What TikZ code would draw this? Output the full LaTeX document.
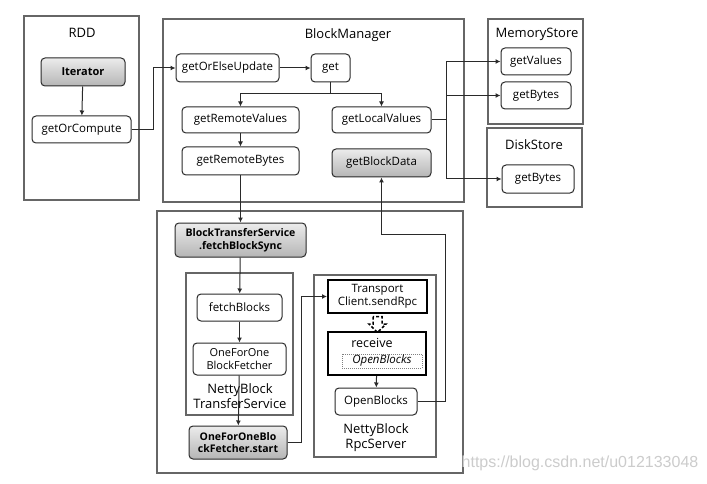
\documentclass[tikz,border=0pt]{standalone}
\usepackage{fontspec}
\setmainfont{Open Sans}
\setsansfont{Open Sans}
\newfontfamily\wmfont{Liberation Sans}
\usetikzlibrary{arrows.meta}
\definecolor{ln}{HTML}{2A2A2A}
\definecolor{fr}{HTML}{666666}
\tikzset{
  frame/.style={draw=fr, line width=1.2pt},
  box/.style={draw=ln, line width=1pt, rounded corners=4pt, fill=white, inner sep=0pt,
    align=center, font=\fontsize{11.5}{13}\selectfont, text=black},
  gbox/.style={box, top color=gray!15, bottom color=gray!58},
  tbox/.style={draw=black, line width=2pt, inner sep=0pt, align=center,
    font=\fontsize{11.5}{13}\selectfont, fill=white, text=black},
  ttl/.style={font=\fontsize{13}{15}\selectfont, inner sep=0pt, text=black, align=center},
  arr/.style={draw=ln, line width=1pt, -{Latex[length=5pt,width=5pt]}},
  ln/.style={draw=ln, line width=1pt},
}
\begin{document}
\begin{tikzpicture}[x=1pt,y=-1pt]
\useasboundingbox (0,0) rectangle (707,484);
\fill[white] (0,0) rectangle (707,484);
% frames
\draw[frame] (24,16) rectangle (139,200);
\draw[frame] (163,19) rectangle (464,202);
\draw[frame] (488,19) rectangle (583,124);
\draw[frame] (487,128) rectangle (582,207);
\draw[frame] (157,211) rectangle (463,473);
\draw[frame] (186,273) rectangle (293,415);
\draw[frame] (314,275) rectangle (436,457);
% titles
\node[ttl] (tRDD) at (82,33) {RDD};
\node[ttl] (tBM) at (348,35) {BlockManager};
\node[ttl] (tMS) at (537,34) {MemoryStore};
\node[ttl] (tDS) at (534,145) {DiskStore};
\node[ttl] (tNBTS) at (240,396) {NettyBlock\\TransferService};
\node[ttl] (tRPC) at (376,438) {NettyBlock\\RpcServer};
% RDD
\node[gbox, minimum width=84, minimum height=28, font=\bfseries\fontsize{11}{13}\selectfont] (iter) at (83,72) {Iterator};
\node[box, minimum width=99, minimum height=27] (goc) at (81.5,129.5) {getOrCompute};
% BlockManager
\node[box, minimum width=103, minimum height=28] (goeu) at (227.5,68) {getOrElseUpdate};
\node[box, minimum width=39, minimum height=28] (get) at (330.5,68) {get};
\node[box, minimum width=117, minimum height=26] (grv) at (240.5,120) {getRemoteValues};
\node[box, minimum width=99, minimum height=26] (glv) at (381.5,120) {getLocalValues};
\node[box, minimum width=117, minimum height=28] (grb) at (240.5,161) {getRemoteBytes};
\node[gbox, minimum width=99, minimum height=28] (gbd) at (381.5,163) {getBlockData};
% stores
\node[box, minimum width=70, minimum height=27] (gv) at (536,61.5) {getValues};
\node[box, minimum width=70, minimum height=27] (gbm) at (536,95.5) {getBytes};
\node[box, minimum width=72, minimum height=28] (gbdk) at (538,179) {getBytes};
% lower
\node[gbox, minimum width=131, minimum height=34, font=\bfseries\fontsize{10.5}{12.5}\selectfont] (fbs) at (240.5,240) {BlockTransferService\\.fetchBlockSync};
\node[box, minimum width=85, minimum height=27] (fb) at (239.5,307.5) {fetchBlocks};
\node[box, minimum width=93, minimum height=32, font=\fontsize{11}{13}\selectfont] (ofo) at (239.5,359) {OneForOne\\BlockFetcher};
\node[gbox, minimum width=98, minimum height=33, font=\bfseries\fontsize{10.5}{12.5}\selectfont] (start) at (238,442.5) {OneForOneBlo\\ckFetcher.start};
\node[tbox, minimum width=99, minimum height=33] (tc) at (377.5,296.5) {Transport\\Client.sendRpc};
\node[tbox, minimum width=98, minimum height=43] (recv) at (377,353.5) {};
\node[inner sep=0pt, font=\fontsize{12.5}{14}\selectfont] (recvt) at (372,343) {receive};
\node[draw=gray, densely dotted, line width=1pt, minimum width=80, minimum height=14, inner sep=0pt, font=\itshape\fontsize{11.5}{13}\selectfont] (obi) at (382,361) {OpenBlocks};
\node[box, minimum width=82, minimum height=27] (ob) at (376,401.5) {OpenBlocks};
% connectors
\draw[arr] (iter) -- (goc);
\draw[arr] (goc.east) -- ++(22,0) |- (goeu.west);
\draw[arr] (goeu) -- (get);
\draw[ln] (get.south) -- ++(0,11) coordinate (j1);
\draw[arr] (j1) -| (grv.north);
\draw[arr] (j1) -| (glv.north);
\draw[arr] (grv) -- (grb);
\draw[ln] (glv.east) -- ++(14.5,0) coordinate (j2);
\draw[arr] (j2) |- (gv.west);
\draw[arr] (j2) |- (gbm.west);
\draw[arr] (j2) |- (gbdk.west);
\draw[arr] (grb) -- (fbs);
\draw[arr] (fbs) -- (fb);
\draw[arr] (fb) -- (ofo);
\draw[arr] (ofo) -- (start);
\draw[arr] (start.east) -- ++(14,0) |- (tc.west);
\draw[densely dashed, line width=1.5pt, draw=black] (tc.south) ++(-4.5,2.5) -- ++(0,7.5) -- ++(-4,0) -- ++(8.5,8.5) -- ++(8.5,-8.5) -- ++(-4,0) -- ++(0,-7.5) -- cycle;
\draw[arr] (recv) -- (ob);
\coordinate (k1) at (445,234);
\draw[arr] (ob.east) -| (k1) -| (gbd.south);
% watermark
\node[font=\wmfont\fontsize{16}{18}\selectfont, text=gray!40, inner sep=0pt] (wm) at (580,463) {https://blog.csdn.net/u012133048};
\end{tikzpicture}
\end{document}
